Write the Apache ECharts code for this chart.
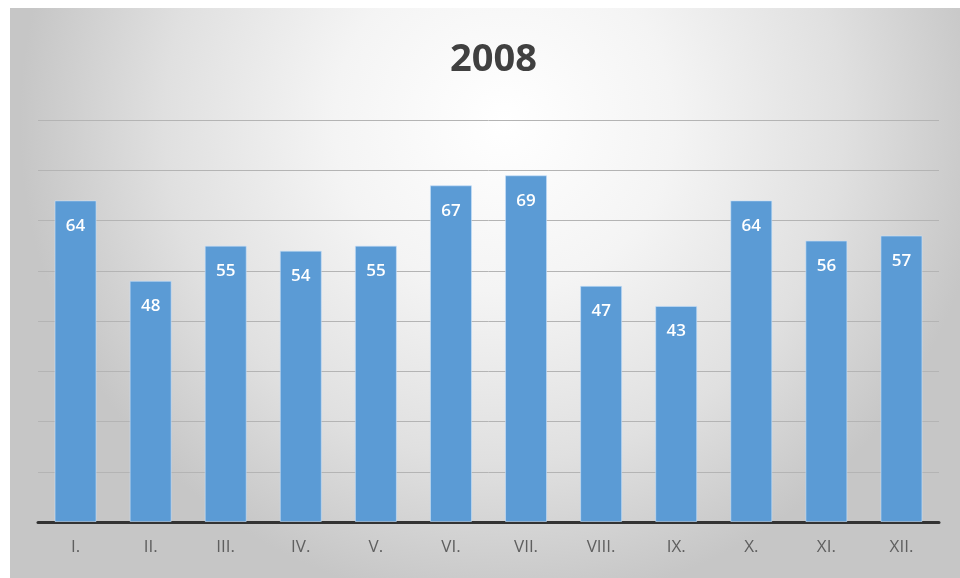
<!DOCTYPE html>
<html><head><meta charset="utf-8">
<script src="https://cdn.jsdelivr.net/npm/echarts@6/dist/echarts.min.js"></script>
<style>html,body{margin:0;padding:0;background:#fff;}#c{width:960px;height:578px;}</style>
</head><body><div id="c"></div>
<script>
var titleText = '2008';
var categories = ['I.','II.','III.','IV.','V.','VI.','VII.','VIII.','IX.','X.','XI.','XII.'];
var values = [64,48,55,54,55,67,69,47,43,64,56,57];
var chart = echarts.init(document.getElementById('c'));
chart.setOption({
  animation:false,
  graphic:[{type:'rect',z:-100,silent:true,shape:{x:10,y:8,width:950,height:570},
    style:{fill:new echarts.graphic.RadialGradient(0.52,0.2,0.85,[{offset:0,color:'#ffffff'},{offset:0.35,color:'#f4f4f4'},{offset:0.7,color:'#e0e0e0'},{offset:1,color:'#c6c6c6'}])}}],
  title:{text:titleText,left:445,top:36,textStyle:{fontFamily:'Open Sans',fontWeight:'bold',fontSize:38,color:'#404040'}},
  grid:{left:38,right:21,top:120,bottom:56},
  xAxis:{type:'category',data:categories,
    axisLine:{lineStyle:{color:'#333',width:3}},axisTick:{show:false},
    axisLabel:{color:'#5f5f5f',fontFamily:'Open Sans',fontSize:17,margin:17}},
  yAxis:{type:'value',min:0,max:80,interval:10,axisLabel:{show:false},axisLine:{show:false},axisTick:{show:false},
    splitLine:{lineStyle:{color:'#b4b4b4',width:1}}},
  series:[{type:'bar',data:values,barWidth:42,
    itemStyle:{color:'#5b9bd5',borderColor:'rgba(200,225,250,0.6)',borderWidth:1},
    label:{show:true,position:'insideTop',distance:17,color:'#ffffff',fontFamily:'Open Sans',fontWeight:'600',fontSize:17}}]
});
</script></body></html>
